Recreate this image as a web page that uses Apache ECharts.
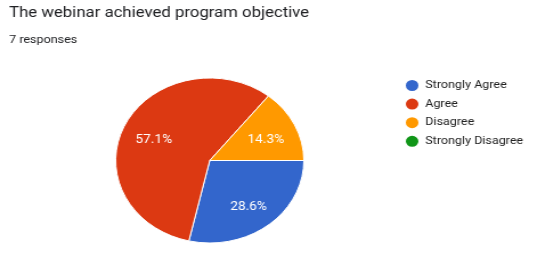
<!DOCTYPE html>
<html><head><meta charset="utf-8">
<script src="https://cdn.jsdelivr.net/npm/echarts@6/dist/echarts.min.js"></script>
<style>
html,body{margin:0;padding:0;background:#fff;overflow:hidden;}
#wrap{width:547px;height:256px;overflow:hidden;}
#c{width:480px;height:256px;transform:scaleX(1.14);transform-origin:0 0;}
</style></head>
<body><div id="wrap"><div id="c"></div></div>
<script>
const titleText = 'The webinar achieved program objective';
const subText = '7 responses';
const categories = ['Strongly Agree', 'Agree', 'Disagree', 'Strongly Disagree'];
const counts = [2, 4, 1, 0];
const colors = ['#3366cc', '#dc3912', '#ff9900', '#109618'];

const data = categories.map((n, i) => ({name: n, value: counts[i], itemStyle: {color: colors[i]}}));
const labelData = categories.map((n, i) => ({name: n, value: counts[i]}));

const chart = echarts.init(document.getElementById('c'), null, {renderer: 'canvas'});
chart.setOption({
  backgroundColor: '#fff',
  animation: false,
  title: {
    text: titleText,
    subtext: subText,
    left: 3, top: 1,
    itemGap: 14,
    textStyle: {fontFamily: 'Roboto', fontSize: 14.7, fontWeight: 'normal', color: '#202124'},
    subtextStyle: {fontFamily: 'Roboto', fontSize: 11, color: '#202124'}
  },
  legend: {
    orient: 'vertical',
    left: 349, top: 73,
    itemWidth: 13, itemHeight: 13,
    itemGap: 3.6,
    icon: 'circle',
    selectedMode: false,
    textStyle: {fontFamily: 'Roboto', fontSize: 11, color: '#222'},
    data: categories.map((n, i) => ({name: n, itemStyle: {color: colors[i]}}))
  },
  series: [
    {
      type: 'pie',
      center: [184, 160.5],
      radius: [0, 82.5],
      startAngle: 0,
      clockwise: true,
      silent: true,
      label: {show: false},
      labelLine: {show: false},
      itemStyle: {borderColor: '#fff', borderWidth: 1},
      data: data
    },
    {
      type: 'pie',
      center: [184, 164],
      radius: [20, 83],
      startAngle: 0,
      clockwise: true,
      silent: true,
      legendHoverLink: false,
      itemStyle: {color: 'rgba(0,0,0,0)'},
      label: {
        show: true,
        position: 'inside',
        fontFamily: 'Roboto',
        fontSize: 12,
        color: '#fff',
        formatter: p => p.value > 0 ? p.percent.toFixed(1) + '%' : ''
      },
      labelLine: {show: false},
      data: labelData
    }
  ]
});
</script></body></html>
